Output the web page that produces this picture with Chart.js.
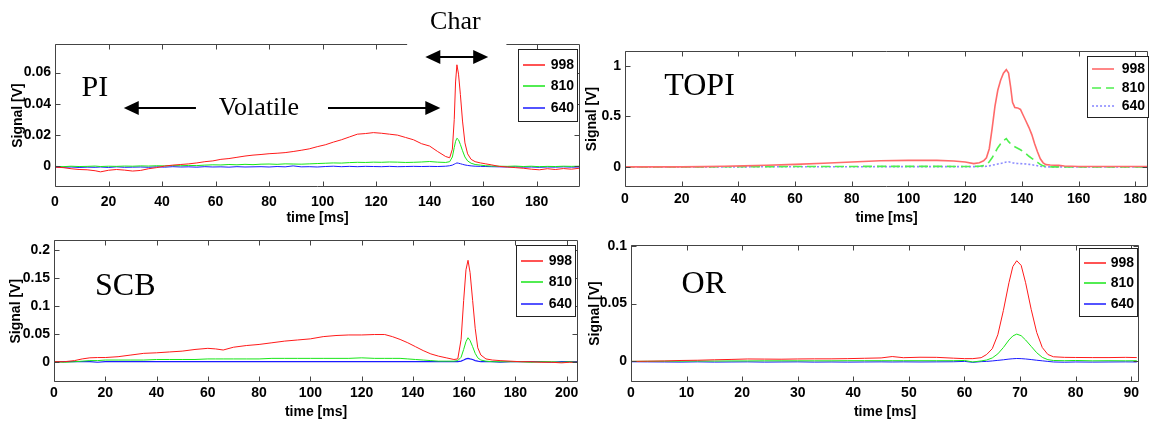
<!DOCTYPE html>
<html>
<head>
<meta charset="utf-8">
<script src="https://cdn.jsdelivr.net/npm/chart.js@4/dist/chart.umd.min.js"></script>
<style>
html, body { margin: 0; padding: 0; background: #fff; }
#wrap { position: relative; width: 1151px; height: 428px; overflow: hidden; background: #fff; }
#wrap canvas { position: absolute; }
</style>
</head>
<body>
<div id="wrap">
  <canvas id="piChart" width="582" height="228" style="left:0;top:0"></canvas>
  <canvas id="topiChart" width="569" height="228" style="left:582px;top:0"></canvas>
  <canvas id="scbChart" width="582" height="200" style="left:0;top:228px"></canvas>
  <canvas id="orChart" width="569" height="200" style="left:582px;top:228px"></canvas>
</div>
<script>
// wavelengths shown in every legend
const seriesLabels = ['998', '810', '640'];

// ---- PI ----
const piTime = [0, 3, 6, 9, 12, 15, 17, 20, 23, 26, 29, 32, 35, 38, 41, 44, 47, 50, 53, 56,
    59, 62, 65, 68, 71, 74, 77, 80, 83, 86, 89, 92, 95, 98, 101, 104, 107, 110, 113, 116,
    119, 122, 125, 128, 131, 134, 137, 140, 143, 146, 147.5, 148.5, 149.2, 149.7, 150.2, 150.8, 151.5, 152.3, 153.2, 154.2,
    155.5, 157, 159, 161, 163, 166, 169, 172, 175, 178, 181, 184, 187, 190, 193, 196];
const piRed = [-0.0005, -0.0008, -0.0015, -0.002, -0.0022, -0.0028, -0.0035, -0.0025, -0.002, -0.0024, -0.003, -0.0026, -0.0015, -0.0008, 0.0002, 0.0008, 0.0012, 0.0016, 0.0022, 0.003,
    0.0035, 0.0045, 0.005, 0.0058, 0.0066, 0.0072, 0.0076, 0.0081, 0.0084, 0.0088, 0.0095, 0.0103, 0.0112, 0.0126, 0.0138, 0.0155, 0.017, 0.0188, 0.0206, 0.021,
    0.0216, 0.0212, 0.0206, 0.02, 0.0185, 0.017, 0.0145, 0.013, 0.0095, 0.0063, 0.0055, 0.011, 0.03, 0.054, 0.065, 0.059, 0.046, 0.029, 0.015, 0.008,
    0.0045, 0.003, 0.0022, 0.0016, 0.001, 0, -0.0004, -0.0008, -0.0012, -0.0018, -0.0022, -0.0015, -0.002, -0.0014, -0.0018, -0.0012];
const piGreen = [0, -0.0002, 0.0001, -0.0001, 0, 0.0002, -0.0001, 0.0001, 0, 0.0002, 0.0001, 0.0003, 0.0002, 0.0004, 0.0003, 0.0005, 0.0004, 0.0006, 0.0005, 0.0008,
    0.001, 0.0009, 0.0012, 0.001, 0.0013, 0.0011, 0.0014, 0.0015, 0.0013, 0.0016, 0.0015, 0.0014, 0.0016, 0.0018, 0.002, 0.0022, 0.0021, 0.0024, 0.0026, 0.0025,
    0.0027, 0.0026, 0.0028, 0.0027, 0.0025, 0.0026, 0.0028, 0.0031, 0.0027, 0.0025, 0.003, 0.006, 0.012, 0.016, 0.018, 0.017, 0.014, 0.01, 0.006, 0.0035,
    0.002, 0.0012, 0.0008, 0.0004, 0.0002, 0.0001, 0, 0.0002, -0.0001, 0.0001, -0.0002, 0, -0.0001, 0.0001, 0, 0.0001];
const piBlue = [-0.0005, -0.0006, -0.0004, -0.0007, -0.0005, -0.0006, -0.0004, -0.0007, -0.0003, -0.0006, -0.0005, -0.0004, -0.0006, -0.0003, -0.0005, -0.0002, -0.0004, -0.0003, -0.0005, -0.0002,
    -0.0004, -0.0003, -0.0005, -0.0002, -0.0004, -0.0003, -0.0002, -0.0004, -0.0001, -0.0003, 0.0003, -0.0003, -0.0002, -0.0004, -0.0001, 0.0001, -0.0002, 0, -0.0002, 0,
    -0.0001, -0.0002, 0, -0.0002, -0.0001, 0, -0.0001, 0, -0.0001, 0.0001, 0.0004, 0.0008, 0.0014, 0.0018, 0.0022, 0.002, 0.0017, 0.0013, 0.0009, 0.0006,
    0.0003, 0.0001, 0, -0.0001, -0.0002, -0.0003, -0.0004, -0.0003, -0.0005, -0.0004, -0.0006, -0.0004, -0.0005, -0.0003, -0.0005, -0.0004];

// ---- TOPI ----
const topiTime = [0, 10, 20, 28, 35, 42, 50, 60, 70, 80, 90, 100, 110, 116, 120, 123, 125, 126.5, 127.5, 128.5,
    129.5, 130.5, 131.5, 132.5, 133.5, 134.5, 135.3, 136, 136.7, 137.5, 138.5, 139.5, 140.5, 141.5, 142.5, 143.5, 144.5, 145.5, 146.5, 147.5,
    148.5, 150, 153, 155, 160, 170, 185];
const topiRed = [0, 0, 0, 0.002, 0.006, 0.01, 0.016, 0.025, 0.036, 0.048, 0.06, 0.064, 0.064, 0.058, 0.048, 0.032, 0.04, 0.06, 0.09, 0.18,
    0.38, 0.6, 0.76, 0.86, 0.93, 0.965, 0.93, 0.8, 0.64, 0.59, 0.585, 0.57, 0.51, 0.45, 0.39, 0.32, 0.23, 0.15, 0.08, 0.04,
    0.022, 0.018, 0.015, 0.008, 0.004, 0.003, 0.003];
const topiGreen = [0, 0, 0, 0, 0.001, 0.002, 0.002, 0.003, 0.004, 0.004, 0.005, 0.005, 0.005, 0.004, 0.004, 0.004, 0.006, 0.012, 0.025, 0.05,
    0.09, 0.14, 0.19, 0.23, 0.26, 0.28, 0.25, 0.23, 0.21, 0.2, 0.185, 0.17, 0.15, 0.13, 0.105, 0.085, 0.065, 0.045, 0.025, 0.01,
    0.003, 0, 0, 0, 0, 0, 0];
const topiBlue = [0, 0, 0, 0, 0, 0, 0.001, 0.001, 0.001, 0.001, 0.002, 0.002, 0.002, 0.002, 0.002, 0.002, 0.003, 0.004, 0.006, 0.01,
    0.016, 0.022, 0.028, 0.034, 0.04, 0.048, 0.05, 0.046, 0.04, 0.036, 0.034, 0.032, 0.03, 0.028, 0.025, 0.021, 0.016, 0.011, 0.006, 0.002,
    0, 0, 0, 0, 0, 0, 0];

// ---- SCB ----
const scbTime = [0, 4, 8, 11, 14, 17, 20, 25, 30, 35, 40, 45, 50, 55, 60, 63, 66, 70, 75, 80,
    85, 90, 95, 100, 105, 110, 115, 120, 125, 129, 132, 135, 138, 141, 144, 147, 150, 153, 156, 157.5,
    158.8, 159.8, 160.7, 161.5, 162.3, 163.3, 164.3, 165.3, 166.5, 168.5, 171, 174, 178, 182, 186, 190, 194, 198, 201, 204];
const scbRed = [0, 0, 0.002, 0.005, 0.007, 0.0075, 0.0075, 0.009, 0.012, 0.015, 0.016, 0.0175, 0.019, 0.022, 0.024, 0.023, 0.021, 0.026, 0.029, 0.031,
    0.034, 0.037, 0.039, 0.041, 0.045, 0.047, 0.048, 0.048, 0.0488, 0.0488, 0.045, 0.04, 0.034, 0.027, 0.02, 0.014, 0.01, 0.007, 0.004, 0.005,
    0.04, 0.11, 0.165, 0.182, 0.16, 0.11, 0.06, 0.025, 0.012, 0.005, 0.003, 0.002, 0.001, 0, 0, -0.001, -0.001, -0.002, -0.001, -0.001];
const scbGreen = [0, -0.001, 0, 0.001, 0.002, 0.002, 0.003, 0.003, 0.003, 0.003, 0.004, 0.004, 0.004, 0.004, 0.005, 0.005, 0.005, 0.005, 0.005, 0.005,
    0.006, 0.006, 0.006, 0.006, 0.006, 0.006, 0.006, 0.007, 0.006, 0.006, 0.006, 0.006, 0.005, 0.004, 0.003, 0.002, 0.001, 0.001, 0.001, 0.002,
    0.008, 0.022, 0.036, 0.043, 0.038, 0.027, 0.015, 0.007, 0.003, 0.001, 0, 0, 0, 0, -0.001, 0, 0, -0.001, 0, -0.001];
const scbBlue = [0, 0, 0, 0, 0, -0.001, 0, 0, 0, 0, 0, 0, 0, 0, 0, 0, 0, 0, 0, 0,
    0, 0, 0, 0, 0, 0, 0, 0, 0, 0, 0, 0, 0, 0, 0, 0, 0, 0, 0, 0,
    0.001, 0.003, 0.005, 0.006, 0.005, 0.004, 0.002, 0.001, 0, 0, 0, -0.001, 0, 0, 0, 0, -0.001, 0, 0, 0];

// ---- OR ----
const orTime = [0, 3, 6, 9, 12, 15, 18, 21, 24, 27, 30, 33, 36, 39, 42, 45, 47, 49, 52, 55,
    58, 60, 61.5, 63, 64, 65, 66, 67, 68, 68.7, 69.4, 70.2, 71, 72, 73, 74, 75, 76, 78, 80,
    83, 86, 89, 91];
const orRed = [0, 0.0002, 0.0004, 0.0008, 0.001, 0.0014, 0.0017, 0.0021, 0.002, 0.0019, 0.0021, 0.0022, 0.0022, 0.0024, 0.0027, 0.003, 0.0042, 0.0032, 0.0036, 0.0035,
    0.0028, 0.0024, 0.0024, 0.0032, 0.006, 0.011, 0.023, 0.044, 0.068, 0.082, 0.087, 0.083, 0.068, 0.045, 0.025, 0.012, 0.006, 0.004, 0.0035, 0.0034,
    0.0033, 0.0033, 0.0035, 0.0033];
const orGreen = [0, 0.0001, 0.0002, 0.0002, 0.0003, 0.0003, 0.0004, 0.0004, 0.0005, 0.0005, 0.0005, 0.0005, 0.0005, 0.0006, 0.0006, 0.0006, 0.0006, 0.0006, 0.0006, 0.0006,
    0.0006, 0.0008, -0.0005, 0.0004, 0.0012, 0.003, 0.0065, 0.012, 0.0185, 0.022, 0.0236, 0.0222, 0.0185, 0.013, 0.0075, 0.0035, 0.0015, 0.0008, 0.0006, 0.0008,
    0.0005, 0.0006, 0.0005, 0.0006];
const orBlue = [-0.0003, -0.0004, -0.0005, -0.0006, -0.0004, -0.0006, -0.0005, -0.0004, -0.0006, -0.0005, -0.0004, -0.0006, -0.0005, -0.0006, -0.0005, -0.0004, -0.0005, -0.0004, -0.0005, -0.0004,
    -0.0003, 0, -0.0008, -0.0002, 0, 0.0004, 0.0009, 0.0014, 0.002, 0.0023, 0.0025, 0.0024, 0.0021, 0.0016, 0.001, 0.0005, 0, -0.0005, -0.0007, -0.0005,
    -0.0006, -0.0005, -0.0004, -0.0005];

const tickFont = { family: "'Liberation Sans Narrow', 'Liberation Sans', Arial, sans-serif", size: 14, weight: 'bold' };
const yTitleFont = { family: "'Liberation Sans', Arial, sans-serif", size: 14, weight: 'bold' };
const serif = "'Liberation Serif', 'Times New Roman', serif";

// box round the plot, with inward tick marks on all four sides
const framePlugin = {
    id: 'frame',
    afterDatasetsDraw(chart, args, opts) {
        const { ctx, chartArea: a, scales: { x, y } } = chart;
        ctx.save();
        ctx.strokeStyle = '#444';
        ctx.lineWidth = 1;
        ctx.beginPath();
        const L = Math.round(a.left) + 0.5, R = Math.round(a.right) - 0.5;
        const T = Math.round(a.top) + 0.5, B = Math.round(a.bottom) - 0.5;
        ctx.moveTo(L, T); ctx.lineTo(L, B); ctx.lineTo(R, B); ctx.lineTo(R, T);
        if (opts.gap) {
            const g1 = x.getPixelForValue(opts.gap[0]), g2 = x.getPixelForValue(opts.gap[1]);
            ctx.lineTo(g2, T); ctx.moveTo(g1, T); ctx.lineTo(L, T);
        } else {
            ctx.lineTo(L, T);
        }
        x.ticks.forEach(t => {
            const px = Math.round(x.getPixelForValue(t.value)) + 0.5;
            ctx.moveTo(px, B); ctx.lineTo(px, B - 5);
            if (!opts.gap || t.value < opts.gap[0] || t.value > opts.gap[1]) {
                ctx.moveTo(px, T); ctx.lineTo(px, T + 5);
            }
        });
        y.ticks.forEach(t => {
            const py = Math.round(y.getPixelForValue(t.value)) + 0.5;
            ctx.moveTo(L, py); ctx.lineTo(L + 5, py);
            ctx.moveTo(R, py); ctx.lineTo(R - 5, py);
        });
        ctx.stroke();
        ctx.restore();
    }
};

// MATLAB style legend box in the top right corner
const boxLegendPlugin = {
    id: 'boxLegend',
    afterDraw(chart, args, opts) {
        const { ctx, chartArea: a } = chart;
        const right = a.right - opts.dx, top = a.top + opts.dy;
        const left = right - opts.w;
        ctx.save();
        ctx.fillStyle = '#fff';
        ctx.fillRect(left, top, opts.w, opts.h);
        ctx.strokeStyle = '#222';
        ctx.lineWidth = 1;
        ctx.strokeRect(Math.round(left) + 0.5, Math.round(top) + 0.5, Math.round(opts.w), Math.round(opts.h));
        ctx.font = 'bold 14px ' + tickFont.family;
        ctx.textAlign = 'right';
        ctx.textBaseline = 'middle';
        chart.data.datasets.forEach((ds, i) => {
            const yy = Math.round(top + opts.h * (0.22 + 0.3 * i));
            ctx.strokeStyle = ds.borderColor;
            ctx.lineWidth = Math.max(ds.borderWidth, 1.5);
            ctx.setLineDash(ds.borderDash || []);
            ctx.beginPath();
            ctx.moveTo(left + 5, yy);
            ctx.lineTo(left + 27, yy);
            ctx.stroke();
            ctx.setLineDash([]);
            ctx.fillStyle = '#000';
            ctx.fillText(ds.label, right - 3, yy);
        });
        ctx.restore();
    }
};

// serif captions and arrows, placed in data units
const notesPlugin = {
    id: 'notes',
    afterDraw(chart, args, opts) {
        const { ctx, scales: { x, y } } = chart;
        ctx.save();
        ctx.fillStyle = '#000';
        ctx.strokeStyle = '#000';
        (opts.items || []).forEach(n => {
            if (n.text) {
                ctx.font = n.size + 'px ' + serif;
                ctx.textAlign = 'center';
                ctx.textBaseline = 'middle';
                ctx.fillText(n.text, x.getPixelForValue(n.x), y.getPixelForValue(n.y));
                return;
            }
            const x1 = x.getPixelForValue(n.x1), x2 = x.getPixelForValue(n.x2);
            const py = Math.round(y.getPixelForValue(n.y));
            const hl = 15, hw = 7;
            const a1 = (n.head === 'left' || n.head === 'both') ? hl : 0;
            const a2 = (n.head === 'right' || n.head === 'both') ? hl : 0;
            ctx.lineWidth = 2;
            ctx.beginPath();
            ctx.moveTo(x1 + a1 - 1, py);
            ctx.lineTo(x2 - a2 + 1, py);
            ctx.stroke();
            if (a1) {
                ctx.beginPath();
                ctx.moveTo(x1, py); ctx.lineTo(x1 + hl, py - hw); ctx.lineTo(x1 + hl, py + hw);
                ctx.closePath(); ctx.fill();
            }
            if (a2) {
                ctx.beginPath();
                ctx.moveTo(x2, py); ctx.lineTo(x2 - hl, py - hw); ctx.lineTo(x2 - hl, py + hw);
                ctx.closePath(); ctx.fill();
            }
        });
        ctx.restore();
    }
};

function fmt(v) {
    return String(+(+v).toFixed(3));
}

function makePanel(id, p) {
    const datasets = p.series.map((vals, i) => ({
        label: seriesLabels[i],
        data: p.time.map((t, k) => ({ x: t, y: vals[k] })),
        borderColor: p.colors[i],
        borderWidth: p.widths[i],
        borderDash: p.dashes[i],
        pointRadius: 0,
        tension: 0,
        fill: false
    }));
    return new Chart(document.getElementById(id), {
        type: 'line',
        data: { datasets: datasets },
        options: {
            responsive: false,
            animation: false,
            events: [],
            layout: { padding: p.pad },
            plugins: {
                legend: { display: false },
                tooltip: { enabled: false },
                frame: { gap: p.gap || null },
                boxLegend: p.legend,
                notes: { items: p.notes }
            },
            scales: {
                x: {
                    type: 'linear',
                    min: 0,
                    max: p.xMax,
                    afterFit: s => { s.height = p.xH; },
                    grid: { display: false, drawTicks: false },
                    border: { display: false },
                    ticks: {
                        stepSize: p.xStep, includeBounds: false, autoSkip: false, maxRotation: 0,
                        padding: p.xTickPad, color: '#000', font: tickFont, callback: v => fmt(v)
                    },
                    title: { display: true, text: 'time [ms]', color: '#000', font: tickFont, padding: { top: 0, bottom: p.xTitlePad } }
                },
                y: {
                    min: p.yMin,
                    max: p.yMax,
                    afterFit: s => { s.width = p.yW; },
                    grid: { display: false, drawTicks: false },
                    border: { display: false },
                    ticks: {
                        stepSize: p.yStep, includeBounds: false, padding: 4,
                        color: '#000', font: tickFont, callback: v => fmt(v)
                    },
                    title: { display: true, text: 'Signal [V]', color: '#000', font: yTitleFont, padding: { top: p.yTitlePad, bottom: 0 } }
                }
            }
        },
        plugins: [framePlugin, boxLegendPlugin, notesPlugin]
    });
}

const solidColors = ['#ff1a1a', '#19e619', '#1a1aff'];

makePanel('piChart', {
    time: piTime, series: [piRed, piGreen, piBlue],
    colors: solidColors, widths: [1, 1, 1], dashes: [[], [], []],
    xMax: 196.2, xStep: 20, yMin: -0.0132, yMax: 0.0783, yStep: 0.02,
    pad: { left: 0, top: 44, right: 2, bottom: 0 }, yW: 55, xH: 41,
    xTickPad: 7, xTitlePad: 1, yTitlePad: 10,
    gap: [131.6, 168.7],
    legend: { w: 59, h: 72, dx: 3, dy: 5 },
    notes: [
        { text: 'PI', x: 14.9, y: 0.0503, size: 30 },
        { text: 'Volatile', x: 76.2, y: 0.0375, size: 26 },
        { x1: 25.7, x2: 52.3, y: 0.0372, head: 'left' },
        { x1: 102.4, x2: 144, y: 0.0372, head: 'right' },
        { text: 'Char', x: 149.6, y: 0.0925, size: 26 },
        { x1: 138.4, x2: 161.9, y: 0.0699, head: 'both' }
    ]
});

makePanel('topiChart', {
    time: topiTime, series: [topiRed, topiGreen, topiBlue],
    colors: ['#ff6a6a', '#4ef04e', '#8c8cff'], widths: [1.6, 1.6, 1.6], dashes: [[], [9, 5], [2, 2]],
    xMax: 184.5, xStep: 20, yMin: -0.2, yMax: 1.15, yStep: 0.5,
    pad: { left: 0, top: 51, right: 2, bottom: 0 }, yW: 43, xH: 41,
    xTickPad: 4, xTitlePad: 1, yTitlePad: 2,
    legend: { w: 61, h: 61, dx: 0, dy: 5 },
    notes: [
        { text: 'TOPI', x: 26.3, y: 0.8, size: 32 }
    ]
});

makePanel('scbChart', {
    time: scbTime, series: [scbRed, scbGreen, scbBlue],
    colors: solidColors, widths: [1, 1, 1.2], dashes: [[], [], []],
    xMax: 204.4, xStep: 20, yMin: -0.0364, yMax: 0.2177, yStep: 0.05,
    pad: { left: 0, top: 10, right: 4, bottom: 0 }, yW: 54, xH: 46,
    xTickPad: 3, xTitlePad: 7, yTitlePad: 8,
    legend: { w: 59, h: 71, dx: 3, dy: 5 },
    notes: [
        { text: 'SCB', x: 27.8, y: 0.134, size: 32 }
    ]
});

makePanel('orChart', {
    time: orTime, series: [orRed, orGreen, orBlue],
    colors: solidColors, widths: [1, 1, 1], dashes: [[], [], []],
    xMax: 91.4, xStep: 10, yMin: -0.0178, yMax: 0.1006, yStep: 0.05,
    pad: { left: 0, top: 17, right: 12, bottom: 0 }, yW: 49, xH: 46,
    xTickPad: 3, xTitlePad: 7, yTitlePad: 5,
    legend: { w: 58, h: 68, dx: 2, dy: 3 },
    notes: [
        { text: 'OR', x: 13.1, y: 0.066, size: 32 }
    ]
});
</script>
</body>
</html>
